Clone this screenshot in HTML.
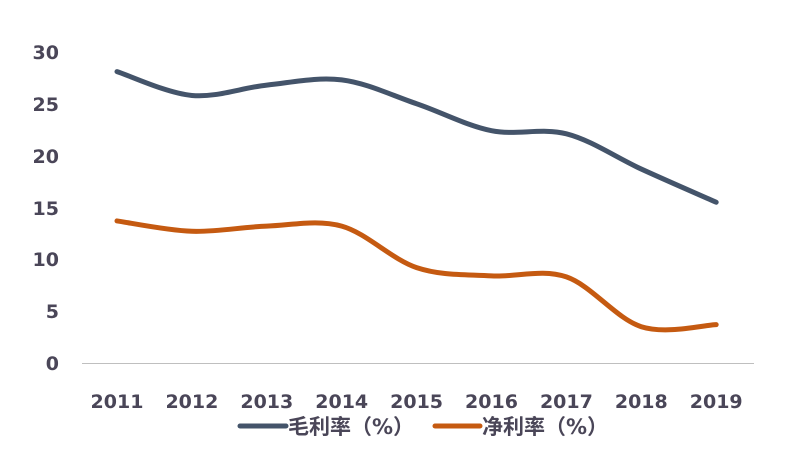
<!DOCTYPE html>
<html><head><meta charset="utf-8"><style>
html,body{margin:0;padding:0;background:#fff;width:810px;height:458px;overflow:hidden}
text{font-family:"DejaVu Sans","Noto Sans CJK SC",sans-serif;font-weight:bold;fill:#4a4658}
</style></head><body>
<svg id="s" width="810" height="458" xmlns="http://www.w3.org/2000/svg">
<line x1="82" y1="363.5" x2="754" y2="363.5" stroke="#bfbfbf" stroke-width="1"/>
<g font-size="19" text-anchor="end">
<text x="59" y="370">0</text><text x="59" y="318">5</text><text x="59" y="266">10</text>
<text x="59" y="215">15</text><text x="59" y="163">20</text><text x="59" y="111">25</text><text x="59" y="59">30</text>
</g>
<g id="xl" font-size="19" text-anchor="middle"></g>
<path id="g" fill="none" stroke="#44546a" stroke-width="5" stroke-linecap="round"/>
<path id="n" fill="none" stroke="#c55a11" stroke-width="5" stroke-linecap="round"/>
<line x1="240" y1="426" x2="286" y2="426" stroke="#44546a" stroke-width="5" stroke-linecap="round"/>
<text x="288" y="434" font-size="21">毛利率（%）</text>
<line x1="435" y1="426" x2="480" y2="426" stroke="#c55a11" stroke-width="5" stroke-linecap="round"/>
<text x="482" y="434" font-size="21">净利率（%）</text>
</svg>
<script>
var G=[28.1,25.8,26.8,27.3,25.0,22.4,22.1,18.7,15.5],N=[13.7,12.7,13.2,13.2,9.2,8.4,8.3,3.5,3.7];
function X(i){return 117+74.9*i}function Y(v){return 363-10.37*v}
function path(a){var p=a.map(function(v,i){return[X(i),Y(v)]});var d="M"+p[0];
for(var i=0;i<p.length-1;i++){var p0=p[i-1]||p[i],p1=p[i],p2=p[i+1],p3=p[i+2]||p2,t=6;
d+=" C"+(p1[0]+(p2[0]-p0[0])/t)+","+(p1[1]+(p2[1]-p0[1])/t)+" "+(p2[0]-(p3[0]-p1[0])/t)+","+(p2[1]-(p3[1]-p1[1])/t)+" "+p2;}return d}
document.getElementById("g").setAttribute("d",path(G));
document.getElementById("n").setAttribute("d",path(N));
var xl=document.getElementById("xl"),h="";
for(var i=0;i<9;i++)h+='<text x="'+X(i)+'" y="408">'+(2011+i)+'</text>';
xl.innerHTML=h;
</script>
</body></html>
